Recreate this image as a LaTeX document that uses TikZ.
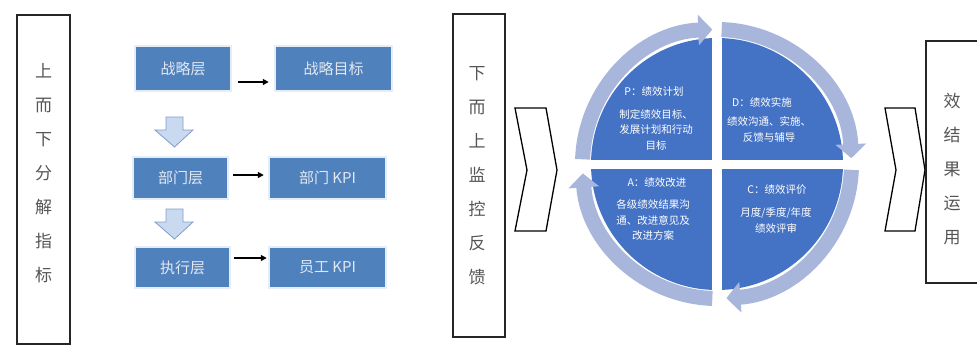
\documentclass[tikz,border=0pt]{standalone}
\usepackage{fontspec}
\newfontfamily\cjk{Noto Sans CJK SC}
\usetikzlibrary{arrows.meta,calc}
\definecolor{boxblue}{HTML}{4F81BD}
\definecolor{quadblue}{HTML}{4472C4}
\definecolor{ringblue}{HTML}{A8B6DC}
\definecolor{glow}{HTML}{E6EDF7}
\definecolor{darrowfill}{HTML}{C9DAF0}
\definecolor{darrowdraw}{HTML}{7F9CCB}
\definecolor{sidetext}{HTML}{555555}
\definecolor{layertext}{HTML}{E2E8F2}
\begin{document}
\begin{tikzpicture}[x=1pt,y=1pt,
  sidebox/.style={draw=black!85, line width=1.3pt, fill=white},
  sidechar/.style={text=sidetext, font=\cjk\fontsize{17}{34}\selectfont, inner sep=0pt, align=center},
  layerbox/.style={fill=boxblue, draw=glow, line width=2.5pt, text=layertext, font=\cjk\fontsize{15}{15}\selectfont, inner sep=0pt},
  blackarrow/.style={draw=black, line width=1.3pt, -{Triangle[length=6pt,width=6pt]}},
  downarrow/.style={fill=darrowfill, draw=darrowdraw, line width=0.8pt},
  chevron/.style={draw=black, line width=1.3pt, fill=white, line join=miter},
  quadtitle/.style={text=white, font=\cjk\fontsize{10.5}{15}\selectfont, inner sep=0pt},
  quadbody/.style={text=white, font=\cjk\fontsize{10.5}{15.5}\selectfont, inner sep=0pt, align=center},
  ringarc/.style={draw=ringblue, line width=15pt, -{Triangle[width=30pt,length=14pt]}}
]
\useasboundingbox (0,0) rectangle (977,-346);
\fill[white] (0,0) rectangle (977,-346);

% left side box
\node[sidebox, minimum width=53pt, minimum height=329pt, inner sep=0pt] (leftbox) at (43.5,-179.5) {};
\node[sidechar] (lefttext) at (43.5,-173) {上\\而\\下\\分\\解\\指\\标};

% layer boxes
\node[layerbox, minimum width=96pt, minimum height=45pt] (l1) at (183,-68.5) {战略层};
\node[layerbox, minimum width=117pt, minimum height=45pt] (t1) at (333.5,-68.5) {战略目标};
\node[layerbox, minimum width=95pt, minimum height=42pt] (l2) at (180.5,-178) {部门层};
\node[layerbox, minimum width=117pt, minimum height=42pt] (t2) at (327.5,-178) {部门 KPI};
\node[layerbox, minimum width=95pt, minimum height=41pt] (l3) at (182.5,-267.5) {执行层};
\node[layerbox, minimum width=117pt, minimum height=41pt] (t3) at (327.5,-267.5) {员工 KPI};

\draw[blackarrow] ([shift={(6,-13.5)}]l1.east) -- ([shift={(-5,-13.5)}]t1.west);
\draw[blackarrow] ([shift={(4,3)}]l2.east) -- ([shift={(-4,3)}]t2.west);
\draw[blackarrow] ([shift={(3,9.5)}]l3.east) -- ([shift={(-1,9.5)}]t3.west);

% down block arrows
\draw[downarrow] (166,-117) -- (183,-117) -- (183,-130) -- (193,-130) -- (174.5,-147) -- (155,-130) -- (166,-130) -- cycle;
\draw[downarrow] (166,-209) -- (183,-209) -- (183,-222) -- (193,-222) -- (174.5,-239) -- (155,-222) -- (166,-222) -- cycle;

% middle side box
\node[sidebox, minimum width=52pt, minimum height=323pt, inner sep=0pt] (midbox) at (479,-175.5) {};
\node[sidechar] (midtext) at (477,-176) {下\\而\\上\\监\\控\\反\\馈};

% chevrons
\draw[chevron] (515,-108) -- (546,-108) -- (557,-170) -- (546,-231) -- (515,-231) -- (527,-170) -- cycle;
\draw[chevron] (885,-108) -- (915,-108) -- (925,-170) -- (915,-231) -- (885,-231) -- (896,-170) -- cycle;

% right side box (cut by the picture edge)
\draw[draw=black!85, line width=1.3pt] (977,-41) -- (926,-41) -- (926,-283) -- (977,-283);
\node[sidechar] (righttext) at (952,-169) {效\\结\\果\\运\\用};

% PDCA circle
\coordinate (c) at (717,-164);
\fill[quadblue] (c) circle (126);
\fill[white] ($(c)+(-5,-132)$) rectangle ($(c)+(5,132)$);
\fill[white] ($(c)+(-132,-4.5)$) rectangle ($(c)+(132,4.5)$);

\draw[ringarc] ($(c)+(178:134.5)$) arc[start angle=178, end angle=92, radius=134.5];
\draw[ringarc] ($(c)+(88:134.5)$) arc[start angle=88, end angle=2.5, radius=134.5];
\draw[ringarc] ($(c)+(-2.5:134.5)$) arc[start angle=-2.5, end angle=-86, radius=134.5];
\draw[ringarc] ($(c)+(-92:134.5)$) arc[start angle=-92, end angle=-176, radius=134.5];

\node[quadtitle] (ptitle) at (654,-92) {P：绩效计划};
\node[quadbody] (pbody) at (656,-129.5) {制定绩效目标、\\发展计划和行动\\目标};
\node[quadtitle] (dtitle) at (762,-102) {D：绩效实施};
\node[quadbody] (dbody) at (769,-129.5) {绩效沟通、实施、\\反馈与辅导};
\node[quadtitle] (atitle) at (657,-183) {A：绩效改进};
\node[quadbody] (abody) at (653,-220) {各级绩效结果沟\\通、改进意见及\\改进方案};
\node[quadtitle] (ctitle) at (777,-190) {C：绩效评价};
\node[quadbody] (cbody) at (776,-220.5) {月度/季度/年度\\绩效评审};
\end{tikzpicture}
\end{document}
